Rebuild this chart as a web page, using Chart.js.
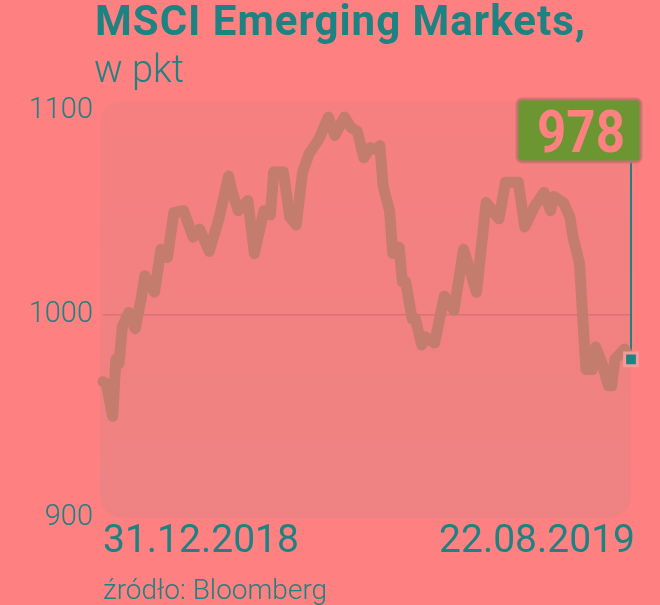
<!DOCTYPE html>
<html lang="pl">
<head>
<meta charset="utf-8">
<script src="https://cdn.jsdelivr.net/npm/chart.js@4"></script>
<style>
  html, body { margin: 0; padding: 0; background: #ff8080; }
  #wrap { position: relative; width: 660px; height: 605px; overflow: hidden; font-family: Roboto, sans-serif; color: #1d8282; }
  #wrap canvas { position: absolute; left: 0; top: 0; }
  .txt { position: absolute; line-height: 1; white-space: nowrap; }
  #tytul { left: 95px; top: 0px; font-size: 42px; font-weight: 700; letter-spacing: 1px; }
  #podtytul { left: 94px; top: 50px; font-size: 38px; font-weight: 300; }
  #dataOd { left: 103px; top: 520px; font-size: 39px; font-weight: 400; }
  #dataDo { right: 25px; top: 520px; font-size: 39px; font-weight: 400; }
  #zrodlo { left: 103px; top: 576px; font-size: 28px; font-weight: 300; }
</style>
</head>
<body>
<div id="wrap">
  <canvas id="myChart" width="660" height="605"></canvas>
  <div class="txt" id="tytul">MSCI Emerging Markets,</div>
  <div class="txt" id="podtytul">w pkt</div>
  <div class="txt" id="dataOd">31.12.2018</div>
  <div class="txt" id="dataDo">22.08.2019</div>
  <div class="txt" id="zrodlo">źródło: Bloomberg</div>
</div>
<script>
// numer sesji od 31.12.2018
const sesje = [0, 1, 3, 4, 5, 6, 8, 10, 12, 13, 16, 18, 20, 22, 25, 28, 30, 33, 36, 39,
  40, 42, 45, 47, 50, 52, 53, 56, 58, 60, 62, 64, 67, 70, 72, 75, 77, 79, 81, 83,
  85, 86, 87, 89, 90, 92, 93, 94, 96, 97, 99, 100, 103, 106, 109, 112, 116, 119, 121, 123,
  125, 129, 131, 134, 137, 139, 140, 143, 145, 146, 148, 149, 150, 152, 153, 155, 157, 158, 159, 162,
  164];
// MSCI EM, pkt
const wartosci = [967, 966, 950, 978, 976, 994, 1001, 993, 1009, 1019, 1011, 1032, 1028, 1050, 1051, 1038, 1042, 1031, 1047, 1068,
  1061, 1051, 1056, 1030, 1051, 1049, 1070, 1070, 1048, 1044, 1070, 1079, 1086, 1097, 1088, 1097, 1092, 1090, 1077, 1082,
  1081, 1083, 1063, 1051, 1030, 1033, 1016, 1016, 998, 998, 985, 989, 986, 1009, 1002, 1032, 1011, 1055, 1051, 1047,
  1065, 1065, 1043, 1053, 1060, 1051, 1058, 1055, 1048, 1038, 1025, 999, 973, 973, 984, 976, 965, 965, 978, 983,
  978];
const ticksY = [900, 1000, 1100];

const ctx = document.getElementById('myChart');

/* Tło obszaru wykresu */
const tloPlugin = {
  id: 'tlo',
  beforeDraw(chart) {
    const a = chart.chartArea;
    const c = chart.ctx;
    const x0 = a.left - 3, y0 = a.top - 10, x1 = a.right, y1 = a.bottom;
    const g = c.createLinearGradient(0, y0, 0, y1);
    g.addColorStop(0, '#f68080');
    g.addColorStop(1, '#ee8282');
    c.save();
    c.fillStyle = g;
    c.beginPath();
    c.roundRect(x0, y0, x1 - x0, y1 - y0, 22);
    c.fill();
    c.restore();
  }
};

/* Etykieta ostatniej wartości */
const etykietaPlugin = {
  id: 'etykieta',
  beforeDatasetsDraw(chart) {
    const c = chart.ctx;
    const xs = chart.scales.x, ys = chart.scales.y;
    const n = wartosci.length - 1;
    const px = xs.getPixelForValue(sesje[n]);
    const py = ys.getPixelForValue(wartosci[n]);
    const bx = 517, by = 99, bw = 124, bh = 63;
    c.save();
    // linia
    c.strokeStyle = '#1d8282';
    c.lineWidth = 2;
    c.beginPath();
    c.moveTo(px, by + bh);
    c.lineTo(px, py);
    c.stroke();
    // ramka
    c.fillStyle = '#6c9632';
    c.strokeStyle = 'rgba(205,110,115,0.8)';
    c.lineWidth = 3;
    c.beginPath();
    c.roundRect(bx, by, bw, bh, 5);
    c.fill();
    c.stroke();
    // tekst
    c.fillStyle = '#ff8080';
    c.font = 'bold 60px Roboto';
    c.textAlign = 'center';
    c.textBaseline = 'alphabetic';
    c.translate(bx + bw / 2 + 2, by + 53);
    c.scale(0.85, 1);
    c.fillText(String(wartosci[n]), 0, 0);
    c.restore();
  }
};

const ostatni = wartosci.length - 1;

const config = {
  type: 'line',
  data: {
    datasets: [{
      label: 'MSCI EM',
      data: sesje.map((s, i) => ({ x: s, y: wartosci[i] })),
      borderColor: 'rgb(196,124,108)',
      borderWidth: 11,
      borderJoinStyle: 'round',
      borderCapStyle: 'round',
      tension: 0,
      clip: 20,
      pointStyle: 'rect',
      pointRadius: c => c.dataIndex === ostatni ? 9 : 0,
      pointBackgroundColor: '#1d8282',
      pointBorderColor: '#f59a9a',
      pointBorderWidth: 3,
      pointHoverRadius: 0
    }]
  },
  options: {
    responsive: false,
    animation: false,
    events: [],
    layout: { padding: { left: 20, right: 29, top: 111, bottom: 87 } },
    plugins: {
      legend: { display: false },
      tooltip: { enabled: false }
    },
    scales: {
      x: {
        type: 'linear',
        display: false,
        min: sesje[0],
        max: sesje[sesje.length - 1]
      },
      y: {
        min: 900,
        max: 1100,
        afterFit(scale) { scale.width = 83; },
        afterBuildTicks(scale) { scale.ticks = ticksY.map(v => ({ value: v })); },
        border: { display: false },
        grid: {
          drawTicks: false,
          lineWidth: 1.5,
          color: c => c.tick && c.tick.value === 1000 ? '#d67474' : 'rgba(0,0,0,0)'
        },
        ticks: {
          padding: 10,
          color: '#1d8282',
          font: { family: 'Roboto', size: 29, weight: '300' },
          callback: v => String(v)
        }
      }
    }
  },
  plugins: [tloPlugin, etykietaPlugin]
};

new Chart(ctx, config);
</script>
</body>
</html>
